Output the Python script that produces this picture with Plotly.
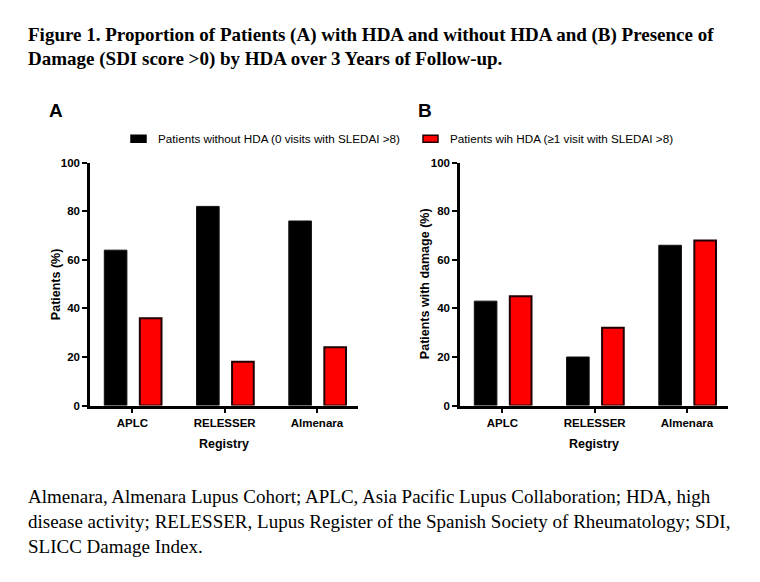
import plotly.graph_objects as go

registries = ["APLC", "RELESSER", "Almenara"]
no_hda_pct = [64, 82, 76]
hda_pct = [36, 18, 24]
no_hda_damage = [43, 20, 66]
hda_damage = [45, 32, 68]
y_ticks = [0, 20, 40, 60, 80, 100]
name_no = "Patients without HDA (0 visits with SLEDAI >8)"
name_hda = "Patients wih HDA (≥1 visit with SLEDAI >8)"

W, H = 760, 582
def px(x):
    return x / W
def py(y):
    return 1 - y / H

fig = go.Figure()
BLACK = "#000000"
RED = "#ff0000"
RED_EDGE = "#200000"

for i, (blk, red) in enumerate([(no_hda_pct, hda_pct), (no_hda_damage, hda_damage)]):
    xa = "x" if i == 0 else "x2"
    ya = "y" if i == 0 else "y2"
    fig.add_trace(go.Bar(x=registries, y=blk, name=name_no, xaxis=xa, yaxis=ya,
                         marker=dict(color=BLACK, line=dict(color="#111111", width=1)),
                         offset=-0.305, width=0.245, showlegend=False))
    fig.add_trace(go.Bar(x=registries, y=red, name=name_hda, xaxis=xa, yaxis=ya,
                         marker=dict(color=RED, line=dict(color=RED_EDGE, width=2)),
                         offset=0.08, width=0.235, showlegend=False))

sans = "Liberation Sans, Arial"
tickfont = dict(family=sans, size=11.5, color="black", weight="bold")
titlefont = dict(family=sans, size=12.5, color="black", weight="bold")

xcommon = dict(range=[-0.46, 2.445], showline=True, linewidth=2.5, linecolor="black",
               ticks="outside", ticklen=5, tickwidth=2, tickcolor="black",
               tickfont=tickfont, showgrid=False, zeroline=False,
               title=dict(text="Registry", font=titlefont, standoff=12))
ycommon = dict(range=[0, 100], tickvals=y_ticks, showline=True, linewidth=2.5, linecolor="black",
               ticks="outside", ticklen=5, tickwidth=2, tickcolor="black",
               tickfont=tickfont, showgrid=False, zeroline=False)

ydom = [py(408), py(160)]
fig.update_layout(
    width=W, height=H, margin=dict(l=0, r=0, t=0, b=0),
    plot_bgcolor="white", paper_bgcolor="white",
    barmode="overlay", showlegend=False,
    xaxis=dict(domain=[px(90), px(358)], anchor="y", **xcommon),
    yaxis=dict(domain=ydom, anchor="x", **ycommon),
    xaxis2=dict(domain=[px(460), px(728)], anchor="y2", **xcommon),
    yaxis2=dict(domain=ydom, anchor="x2", **ycommon),
)

# y-axis titles
for t, x in [("Patients (%)", 56), ("Patients with damage (%)", 425)]:
    fig.add_annotation(xref="paper", yref="paper", xanchor="center", yanchor="middle", showarrow=False,
                       text=t, x=px(x), y=py(284), textangle=-90, font=titlefont)

# legend (manual)
legend_items = [(name_no, BLACK, BLACK, 131, 156), (name_hda, RED, RED_EDGE, 423, 448)]
for t, fill, edge, sx, tx in legend_items:
    fig.add_shape(type="rect", xref="paper", yref="paper", x0=px(sx), x1=px(sx + 15),
                  y0=py(139), y1=py(132), fillcolor=fill, line=dict(color=edge, width=1.5))
    fig.add_annotation(xref="paper", yref="paper", xanchor="left", yanchor="middle", showarrow=False,
                       text=t, x=px(tx), y=py(135.5), font=dict(family=sans, size=11.7, color="black"))

serif = "Liberation Serif, Times New Roman"
title_lines = [
    ("<b>Figure 1. Proportion of Patients (A) with HDA and without HDA and (B) Presence of</b>", 30),
    ("<b>Damage (SDI score >0) by HDA over 3 Years of Follow-up.</b>", 54.5),
]
for t, y in title_lines:
    fig.add_annotation(xref="paper", yref="paper", xanchor="left", yanchor="middle", showarrow=False,
                       text=t, x=px(26), y=py(y), font=dict(family=serif, size=19, color="black"))

caption = [
    ("Almenara, Almenara Lupus Cohort; APLC, Asia Pacific Lupus Collaboration; HDA, high", 501),
    ("disease activity; RELESSER, Lupus Register of the Spanish Society of Rheumatology; SDI,", 526.5),
    ("SLICC Damage Index.", 552),
]
for t, y in caption:
    fig.add_annotation(xref="paper", yref="paper", xanchor="left", yanchor="middle", showarrow=False,
                       text=t, x=px(26), y=py(y), font=dict(family=serif, size=19, color="black"))

for t, x in [("A", 47), ("B", 416)]:
    fig.add_annotation(xref="paper", yref="paper", xanchor="left", yanchor="middle", showarrow=False,
                       text=t, x=px(x), y=py(107),
                       font=dict(family=sans, size=19, color="black", weight="bold"))

fig.write_html("out.html", config={"displayModeBar": False},
               post_script="document.body.style.margin='0';document.body.style.overflow='hidden';")
